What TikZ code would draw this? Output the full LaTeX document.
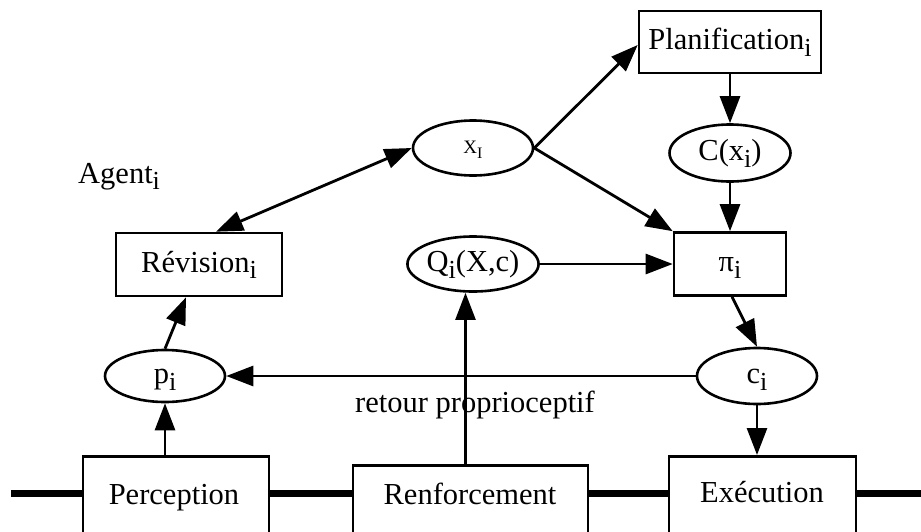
\documentclass[tikz,border=0pt]{standalone}
\usepackage{fontspec}
\setmainfont{Liberation Serif}
\usetikzlibrary{arrows.meta,calc,shapes.geometric}
\newcommand{\sbi}[1]{\raisebox{-0.22em}{\fontsize{26pt}{26pt}\selectfont #1}}
\begin{document}
\begin{tikzpicture}[x=1pt,y=-1pt,
  every node/.style={font=\fontsize{30.5pt}{36pt}\selectfont, inner sep=0pt},
  boxnode/.style={draw, line width=2.6pt, rectangle, fill=white, text height=21pt, text depth=6pt},
  ellnode/.style={draw, line width=2.6pt, ellipse, minimum width=120pt, minimum height=55pt, fill=white, text height=21pt, text depth=6pt},
  arr/.style={line width=2.8pt, -{Triangle[length=27pt,width=20pt]}},
  darr/.style={line width=2.8pt, {Triangle[length=27pt,width=20pt]}-{Triangle[length=27pt,width=20pt]}},
  bus/.style={line width=7pt}
]
\useasboundingbox (0,0) rectangle (921,531);
\clip (0,0) rectangle (921,531);

% bus line
\draw[bus] (11,493) -- (921,493);

% bottom boxes (extend past the bottom edge)
\node[draw, line width=2.6pt, fill=white, minimum width=186pt, minimum height=100pt, anchor=north] (perc) at (176,455) {};
\node[draw, line width=2.6pt, fill=white, minimum width=235pt, minimum height=100pt, anchor=north] (ren) at (470.5,464) {};
\node[draw, line width=2.6pt, fill=white, minimum width=187pt, minimum height=100pt, anchor=north] (exe) at (762.5,455) {};
\node[anchor=base] (perct) at (174,504) {Perception};
\node[anchor=base] (rent) at (470,504) {Renforcement};
\node[anchor=base] (exet) at (762,502) {Exécution};

% upper nodes
\node[boxnode, minimum width=182pt, minimum height=62pt] (pl) at (730,42) {Planification\sbi{i}};
\node[ellnode, minimum width=121pt, minimum height=57pt] (cx) at (730,153) {C(x\sbi{i})};
\node[boxnode, minimum width=112pt, minimum height=63pt] (pi) at (730,264) {π\sbi{i}};
\node[ellnode, text height=14pt, text depth=4pt] (xi) at (473,148) {\fontsize{19pt}{19pt}\selectfont X\raisebox{-0.3em}{\fontsize{16pt}{16pt}\selectfont I}};
\node[ellnode] (q) at (473,264) {Q\sbi{i}(X,c)};
\node[boxnode, minimum width=166pt, minimum height=63pt] (rev) at (199,264.5) {Révision\sbi{i}};
\node[ellnode, minimum height=52pt] (p) at (165,376) {p\sbi{i}};
\node[ellnode, minimum height=56pt] (c) at (757,376) {c\sbi{i}};
\node[anchor=base west] (agent) at (78,183) {Agent\sbi{i}};

% connectors
\draw[darr] (xi.west) -- ([xshift=17pt]rev.north);
\draw[arr] (xi.east) -- ([yshift=-3pt]pl.west);
\draw[arr] (xi.east) -- (pi.north west);
\draw[arr] (pl.south) -- (cx.north);
\draw[arr] (cx.south) -- (pi.north);
\draw[arr] (q.east) -- (pi.west);
\draw[arr] ([xshift=2pt]pi.south) -- (c.north);
\draw[arr] (c.west) -- node[below=14pt, anchor=north, xshift=14pt] (retour) {retour proprioceptif} (p.east);
\draw[arr] (c.south) -- (c.south |- exe.north);
\draw[arr] (p.south |- perc.north) -- (p.south);
\draw[arr] (p.north) -- ([xshift=-13pt]rev.south);
\draw[arr, line width=2.4pt] ([xshift=-5pt]ren.north) -- ([xshift=-5pt]ren.north |- q.south);
\end{tikzpicture}
\end{document}
